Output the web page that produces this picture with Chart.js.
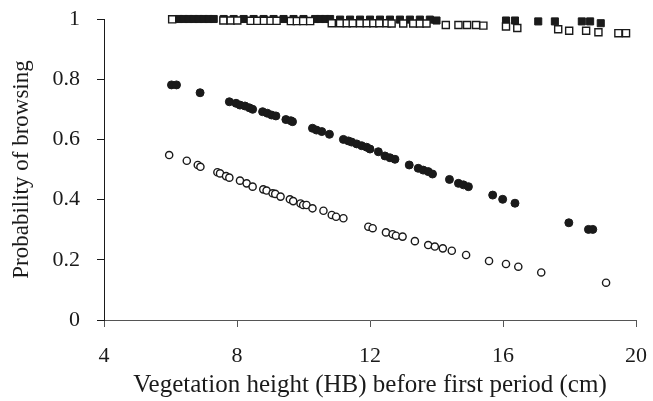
<!DOCTYPE html>
<html>
<head>
<meta charset="utf-8">
<script src="https://cdn.jsdelivr.net/npm/chart.js@4.4.0/dist/chart.umd.min.js"></script>
<style>
  html, body { margin: 0; padding: 0; background: #fff; }
  #wrap { width: 653px; height: 401px; }
</style>
</head>
<body>
<div id="wrap"><canvas id="chart" width="653" height="401"></canvas></div>
<script>
// open squares
const openSqX = [6.05, 7.59, 7.81, 8.01, 8.41, 8.61, 8.81, 9.01, 9.19, 9.62, 9.80, 9.99, 10.20,
  10.85, 11.10, 11.30, 11.48, 11.70, 11.90, 12.10, 12.28, 12.50, 12.65, 13.00, 13.30, 13.50, 13.70,
  14.28, 14.66, 14.92, 15.19, 15.41, 16.09, 16.43, 17.66, 17.99, 18.50, 18.87, 19.47, 19.70];
const openSqY = [0.999, 0.995, 0.995, 0.995, 0.994, 0.994, 0.994, 0.994, 0.994, 0.993, 0.993, 0.993, 0.993,
  0.986, 0.986, 0.986, 0.986, 0.986, 0.986, 0.986, 0.986, 0.986, 0.985, 0.985, 0.985, 0.985, 0.985,
  0.980, 0.980, 0.980, 0.980, 0.978, 0.975, 0.970, 0.966, 0.961, 0.961, 0.956, 0.953, 0.953];

// filled squares
const fillSqX = [6.25, 6.40, 6.55, 6.70, 6.85, 7.00, 7.15, 7.30, 7.60, 7.90, 8.20, 8.50, 8.80, 9.10,
  9.40, 9.70, 10.00, 10.35, 10.50, 10.65, 10.80, 11.10, 11.40, 11.70, 12.00, 12.30, 12.60, 12.90,
  13.20, 13.50, 13.80, 14.00, 16.09, 16.36, 17.06, 17.56, 18.37, 18.62, 18.94];
const fillSqY = [1.0, 1.0, 1.0, 1.0, 1.0, 1.0, 1.0, 1.0, 1.0, 1.0, 1.0, 1.0, 1.0, 1.0,
  1.0, 1.0, 1.0, 1.0, 1.0, 1.0, 1.0, 0.998, 0.998, 0.998, 0.998, 0.998, 0.998, 0.998,
  0.998, 0.998, 0.998, 0.995, 0.995, 0.995, 0.992, 0.992, 0.992, 0.992, 0.986];

// filled circles
const fillCirX = [6.03, 6.18, 6.89, 7.77, 7.97, 8.09, 8.24, 8.37, 8.47, 8.77, 8.91, 9.04, 9.17, 9.47,
  9.62, 9.67, 10.27, 10.39, 10.55, 10.78, 11.20, 11.35, 11.45, 11.60, 11.75, 11.90, 12.00, 12.25,
  12.45, 12.60, 12.75, 13.18, 13.45, 13.60, 13.75, 13.88, 14.39, 14.66, 14.81, 14.96, 15.69, 15.99,
  16.36, 17.98, 18.57, 18.70];
const fillCirY = [0.781, 0.781, 0.755, 0.725, 0.720, 0.714, 0.711, 0.705, 0.700, 0.692, 0.687, 0.681, 0.678, 0.666,
  0.662, 0.659, 0.637, 0.631, 0.626, 0.617, 0.600, 0.595, 0.591, 0.585, 0.579, 0.574, 0.568, 0.559,
  0.545, 0.539, 0.534, 0.515, 0.504, 0.498, 0.493, 0.485, 0.467, 0.454, 0.449, 0.443, 0.415, 0.401,
  0.388, 0.323, 0.301, 0.301];

// open circles
const openCirX = [5.96, 6.49, 6.82, 6.90, 7.41, 7.49, 7.67, 7.77, 8.09, 8.29, 8.47, 8.79, 8.89, 9.07,
  9.15, 9.31, 9.59, 9.69, 9.91, 9.99, 10.09, 10.27, 10.60, 10.85, 10.98, 11.20, 11.95, 12.08,
  12.48, 12.68, 12.78, 12.98, 13.35, 13.75, 13.95, 14.19, 14.46, 14.89, 15.58, 16.09, 16.46, 17.15, 19.10];
const openCirY = [0.548, 0.529, 0.515, 0.509, 0.491, 0.487, 0.478, 0.473, 0.463, 0.454, 0.443, 0.434, 0.430, 0.421,
  0.419, 0.410, 0.401, 0.395, 0.387, 0.382, 0.382, 0.371, 0.363, 0.349, 0.343, 0.338, 0.310, 0.305,
  0.291, 0.285, 0.280, 0.277, 0.262, 0.249, 0.244, 0.238, 0.230, 0.216, 0.196, 0.186, 0.177, 0.158, 0.124];

const xTicks = [4, 8, 12, 16, 20];
const yTicks = [0, 0.2, 0.4, 0.6, 0.8, 1];

function pts(xs, ys) {
  return xs.map(function (x, i) { return {x: x, y: ys[i]}; });
}

const ink = '#1a1a1a';
const serif = '"Liberation Serif", "Times New Roman", serif';

const ctx = document.getElementById('chart');
new Chart(ctx, {
  type: 'scatter',
  data: {
    datasets: [{
      label: 'open squares',
      data: pts(openSqX, openSqY),
      pointStyle: 'rect',
      pointRadius: 5,
      pointBorderWidth: 1.4,
      borderColor: ink,
      backgroundColor: '#fff',
      clip: false,
      order: 1
    }, {
      label: 'filled squares',
      data: pts(fillSqX, fillSqY),
      pointStyle: 'rect',
      pointRadius: 5,
      pointBorderWidth: 1,
      borderColor: ink,
      backgroundColor: ink,
      clip: false,
      order: 2
    }, {
      label: 'filled circles',
      data: pts(fillCirX, fillCirY),
      pointStyle: 'circle',
      pointRadius: 4,
      pointBorderWidth: 1,
      borderColor: ink,
      backgroundColor: ink,
      clip: false,
      order: 3
    }, {
      label: 'open circles',
      data: pts(openCirX, openCirY),
      pointStyle: 'circle',
      pointRadius: 3.6,
      pointBorderWidth: 1.4,
      borderColor: ink,
      backgroundColor: '#fff',
      clip: false,
      order: 4
    }]
  },
  options: {
    responsive: false,
    animation: false,
    events: [],
    layout: { autoPadding: false, padding: { top: 19, right: 17, left: 0, bottom: 0 } },
    plugins: {
      legend: { display: false },
      tooltip: { enabled: false }
    },
    scales: {
      x: {
        type: 'linear',
        min: 4,
        max: 20,
        afterFit: function (s) {
          s.height = 81;
          s.paddingLeft = 0;
          s.paddingRight = 0;
        },
        afterBuildTicks: function (s) { s.ticks = xTicks.map(function (v) { return {value: v}; }); },
        grid: { display: true, drawOnChartArea: false, drawTicks: true, tickLength: 7, color: '#555', lineWidth: 1 },
        border: { display: true, color: '#555', width: 1 },
        ticks: {
          color: ink, padding: 16, font: { family: serif, size: 22 },
          callback: function (v) { return String(v); }
        },
        title: {
          display: true,
          text: 'Vegetation height (HB) before first period (cm)',
          color: ink,
          font: { family: serif, size: 25 },
          padding: { top: 0, bottom: 1 }
        }
      },
      y: {
        min: 0,
        max: 1,
        afterFit: function (s) {
          s.width = 104;
          s.paddingTop = 0;
          s.paddingBottom = 0;
        },
        afterBuildTicks: function (s) { s.ticks = yTicks.map(function (v) { return {value: v}; }); },
        grid: { display: true, drawOnChartArea: false, drawTicks: true, tickLength: 7, color: ink, lineWidth: 1 },
        border: { display: true, color: ink, width: 1 },
        ticks: {
          color: ink, padding: 17, font: { family: serif, size: 22 },
          callback: function (v) { return String(v); }
        },
        title: {
          display: true,
          text: 'Probability of browsing',
          color: ink,
          font: { family: serif, size: 23 },
          padding: { top: 8, bottom: 0 }
        }
      }
    }
  }
});
</script>
</body>
</html>
